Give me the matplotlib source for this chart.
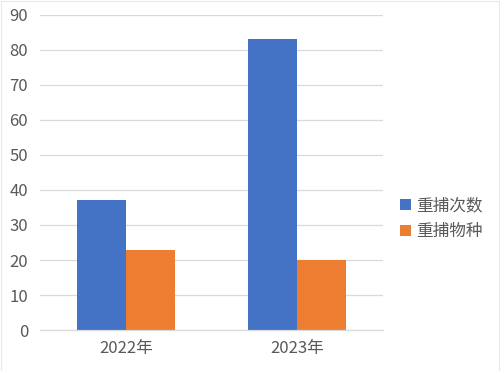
import matplotlib
matplotlib.use("Agg")
import matplotlib.pyplot as plt
import numpy as np
from matplotlib.patches import Rectangle

plt.rcParams['font.family'] = ['Noto Sans CJK SC', 'DejaVu Sans']

categories = ["2022年", "2023年"]
series_names = ["重捕次数", "重捕物种"]
recapture_counts = [37, 83]
recapture_species = [23, 20]
yticks = [0, 10, 20, 30, 40, 50, 60, 70, 80, 90]

colors = ["#4472C4", "#ED7D31"]
text_color = "#595959"
grid_color = "#D9D9D9"

fig = plt.figure(figsize=(5.0, 3.71), dpi=100)
ax = fig.add_axes([0.08, 0.1105, 0.686, 0.8491])

x = np.arange(len(categories))
w = 1 / 3.5
ax.bar(x - w / 2, recapture_counts, width=w, color=colors[0], label=series_names[0], zorder=3)
ax.bar(x + w / 2, recapture_species, width=w, color=colors[1], label=series_names[1], zorder=3)

ax.set_xlim(-0.5, 1.5)
ax.set_ylim(0, 90)
ax.set_yticks(yticks)
ax.set_xticks(x)
ax.set_xticklabels(categories)
ax.tick_params(axis='both', length=0, colors=text_color, labelsize=12)
ax.tick_params(axis='y', pad=8.5)
ax.tick_params(axis='x', pad=7)
ax.yaxis.grid(True, color=grid_color, linewidth=0.9, zorder=0)
for s in ["top", "right", "left"]:
    ax.spines[s].set_visible(False)
ax.spines["bottom"].set_color(grid_color)
ax.spines["bottom"].set_linewidth(0.9)
ax.spines["bottom"].set_zorder(4)

leg = fig.legend(loc="center left", bbox_to_anchor=(0.783, 0.411), frameon=False,
                 fontsize=12, handlelength=0.65, handleheight=0.65,
                 handletextpad=0.3, labelspacing=0.55, borderpad=0)
for t in leg.get_texts():
    t.set_color(text_color)

fig.patches.append(Rectangle((0.001, 0.001), 0.997, 0.997, transform=fig.transFigure,
                             fill=False, edgecolor="#E8E8E8", linewidth=0.8))

fig.savefig("out.png", dpi=100)
